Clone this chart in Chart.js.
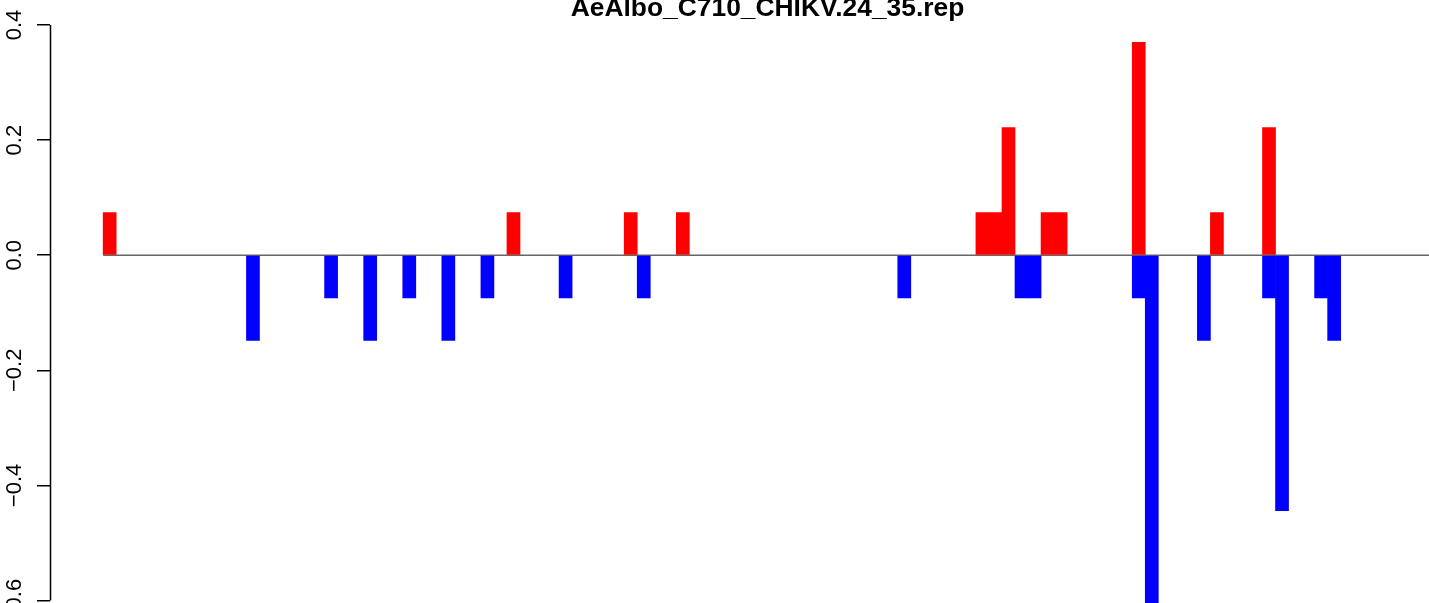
<!DOCTYPE html>
<html>
<head>
<meta charset="utf-8">
<script src="https://cdn.jsdelivr.net/npm/chart.js@4.4.0/dist/chart.umd.min.js"></script>
<style>
  html, body { margin: 0; padding: 0; background: #fff; overflow: hidden; width: 1429px; height: 603px; }
  #wrap { position: absolute; left: 0; top: -8px; }
</style>
</head>
<body>
<div id="wrap"><canvas id="chart_rep" width="1535" height="671"></canvas></div>
<script>
const chartTitle = "AeAlbo_C710_CHIKV.24_35.rep";
const binCount = 102;

// bins with a positive score (red) and with a negative score (blue)
const upBins = [0, 31, 40, 44, 67, 68, 69, 72, 73, 79, 85, 89];
const upValues = [0.074, 0.074, 0.074, 0.074, 0.074, 0.074, 0.222, 0.074, 0.074, 0.370, 0.074, 0.222];
const downBins = [11, 17, 20, 23, 26, 29, 35, 41, 61, 70, 71, 79, 80, 84, 89, 90, 93, 94];
const downValues = [-0.148, -0.074, -0.148, -0.074, -0.148, -0.074, -0.074, -0.074, -0.074,
                    -0.074, -0.074, -0.074, -0.667, -0.148, -0.074, -0.444, -0.074, -0.148];

const yTicks = [-0.6, -0.4, -0.2, 0, 0.2, 0.4];
const yTickLabels = ["\u22120.6", "\u22120.4", "\u22120.2", "0.0", "0.2", "0.4"];

// R style 4% range expansion
const lo = Math.min(...downValues), hi = Math.max(...upValues);
const yPad = (hi - lo) * 0.04;
const xPad = binCount * 0.04;

const fontFamily = '"Liberation Sans", Arial, Helvetica, sans-serif';

const refLines = {
  id: "refLines",
  beforeDatasetsDraw(c) {
    const { ctx, scales: { x, y } } = c;
    const y0 = y.getPixelForValue(0);
    ctx.save();
    ctx.strokeStyle = "#666";
    ctx.lineWidth = 1.5;
    ctx.beginPath();
    ctx.moveTo(x.getPixelForValue(0), y0);
    ctx.lineTo(x.getPixelForValue(binCount), y0);
    ctx.stroke();
    ctx.restore();
  },
  afterDraw(c) {
    const { ctx, scales: { y } } = c;
    ctx.save();
    ctx.strokeStyle = "#000";
    ctx.lineWidth = 1.5;
    ctx.beginPath();
    ctx.moveTo(y.right + 0.5, y.getPixelForValue(yTicks[yTicks.length - 1]));
    ctx.lineTo(y.right + 0.5, y.getPixelForValue(yTicks[0]));
    ctx.stroke();
    ctx.restore();
  }
};

new Chart(document.getElementById("chart_rep").getContext("2d"), {
  type: "bar",
  data: {
    datasets: [
      {
        label: "up",
        data: upBins.map((b, i) => ({ x: b + 0.5, y: upValues[i] })),
        backgroundColor: "#FF0000",
        borderWidth: 0,
        barPercentage: 1,
        categoryPercentage: 1
      },
      {
        label: "down",
        data: downBins.map((b, i) => ({ x: b + 0.5, y: downValues[i] })),
        backgroundColor: "#0000FF",
        borderWidth: 0,
        barPercentage: 1,
        categoryPercentage: 1
      }
    ]
  },
  options: {
    responsive: false,
    animation: false,
    layout: { padding: 0 },
    plugins: {
      legend: { display: false },
      tooltip: { enabled: false },
      title: {
        display: true,
        text: chartTitle,
        color: "#000",
        padding: { top: 4, bottom: -4 },
        font: { family: fontFamily, size: 26.4, weight: "bold", lineHeight: 1 }
      }
    },
    scales: {
      x: {
        type: "linear",
        min: -xPad,
        max: binCount + xPad,
        offset: false,
        stacked: true,
        display: false
      },
      y: {
        min: lo - yPad,
        max: hi + yPad,
        stacked: true,
        afterBuildTicks: s => { s.ticks = yTicks.map(v => ({ value: v })); },
        afterFit: s => { s.width = 50; s.paddingTop = 0; s.paddingBottom = 0; },
        border: { display: false },
        grid: { drawOnChartArea: false, drawTicks: true, tickLength: 13, color: "#000", lineWidth: 1.5 },
        ticks: {
          minRotation: 90,
          maxRotation: 90,
          crossAlign: "center",
          padding: 0,
          color: "#000",
          font: { family: fontFamily, size: 22 },
          callback: (v, i) => yTickLabels[i]
        }
      },
      // empty right margin so the title centres over the plot like R's main title
      yMargin: {
        type: "linear",
        position: "right",
        min: lo - yPad,
        max: hi + yPad,
        grid: { display: false },
        border: { display: false },
        ticks: { display: false },
        afterFit: s => { s.width = 50; s.paddingTop = 0; s.paddingBottom = 0; }
      }
    }
  },
  plugins: [refLines]
});
</script>
</body>
</html>
